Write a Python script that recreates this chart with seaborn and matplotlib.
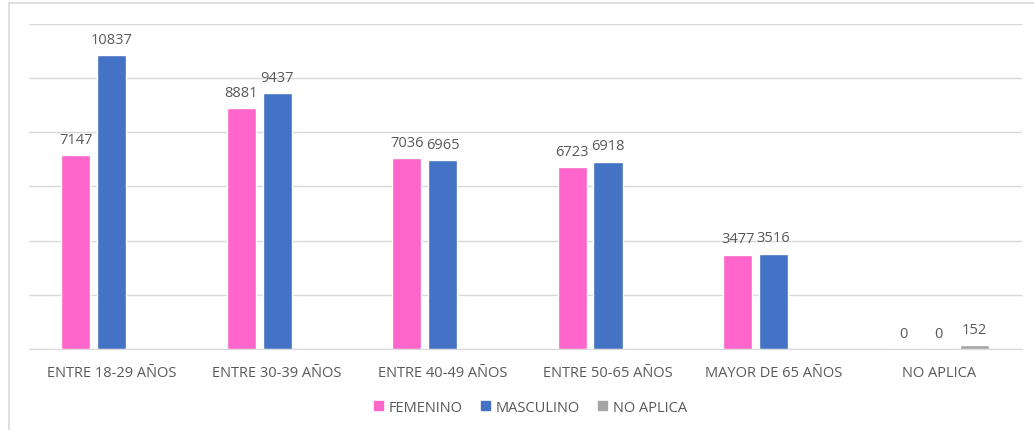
"""Distribución por rango de edad y género."""

import matplotlib.pyplot as plt
import pandas as pd
import seaborn as sns
from matplotlib.patches import Rectangle

CATEGORIES = ["ENTRE 18-29 AÑOS", "ENTRE 30-39 AÑOS", "ENTRE 40-49 AÑOS",
              "ENTRE 50-65 AÑOS", "MAYOR DE 65 AÑOS", "NO APLICA"]
SERIES = ["FEMENINO", "MASCULINO", "NO APLICA"]
FEMENINO = [7147, 8881, 7036, 6723, 3477, 0]
MASCULINO = [10837, 9437, 6965, 6918, 3516, 0]
NO_APLICA = [None, None, None, None, None, 152]
COLORS = ["#FF66CC", "#4472C4", "#A5A5A5"]

TEXT_COLOR = "#595959"
GRID_COLOR = "#D9D9D9"


def build_frame() -> pd.DataFrame:
    rows = []
    for name, values in zip(SERIES, [FEMENINO, MASCULINO, NO_APLICA]):
        for cat, v in zip(CATEGORIES, values):
            if v is not None:
                rows.append({"categoria": cat, "serie": name, "valor": v})
    return pd.DataFrame(rows)


def main():
    df = build_frame()
    sns.set_style("white")
    plt.rcParams["font.family"] = ["Open Sans", "DejaVu Sans"]

    fig = plt.figure(figsize=(10.34, 4.31), dpi=100)
    ax = fig.add_axes([0.028, 0.188, 0.96, 0.754])

    sns.barplot(data=df, x="categoria", y="valor", hue="serie",
                order=CATEGORIES, hue_order=SERIES, palette=COLORS,
                width=0.65, gap=0.19, saturation=1, ax=ax, legend=False)

    for container in ax.containers:
        ax.bar_label(container, fmt="%d", padding=6, fontsize=10.5,
                     color=TEXT_COLOR)

    ax.set_ylim(0, 12000)
    ax.set_yticks(range(0, 12001, 2000))
    ax.yaxis.grid(True, color=GRID_COLOR, linewidth=1)
    ax.set_axisbelow(True)
    ax.tick_params(axis="y", left=False, labelleft=False)
    ax.tick_params(axis="x", bottom=False, labelsize=10.5,
                   labelcolor=TEXT_COLOR, pad=8)
    ax.set_xlabel("")
    ax.set_ylabel("")
    for side in ["top", "right", "left"]:
        ax.spines[side].set_visible(False)
    ax.spines["bottom"].set_color(GRID_COLOR)

    handles = [Rectangle((0, 0), 1, 1, color=c) for c in COLORS]
    fig.legend(handles, SERIES, loc="center", bbox_to_anchor=(0.513, 0.053),
               ncol=3, frameon=False, fontsize=10.5, labelcolor=TEXT_COLOR,
               handlelength=0.65, handleheight=0.65, handletextpad=0.4,
               columnspacing=1.2)

    fig.patches.append(Rectangle((9 / 1034, -0.05), 1.1, 1.05 - 4 / 431,
                                 transform=fig.transFigure, fill=False,
                                 edgecolor=GRID_COLOR, linewidth=1.2))

    fig.savefig("out.png", dpi=100)
    plt.close(fig)


if __name__ == "__main__":
    main()
